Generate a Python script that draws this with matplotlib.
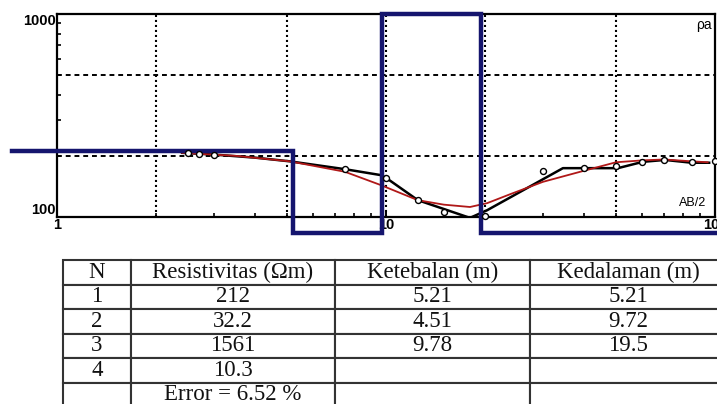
import numpy as np
import matplotlib
matplotlib.use('Agg')
import matplotlib.pyplot as plt
from matplotlib import ticker

# field data (AB/2 in m, apparent resistivity in ohm-m)
ab2_obs = [2.5, 2.7, 3.0, 7.5, 10, 12.5, 15, 20, 30, 40, 50, 60, 70, 85, 100]
rho_obs = [206, 205, 203, 172, 156, 121, 106, 101, 169, 174, 178, 187, 191, 186, 188]

# hand-smoothed field curve
ab2_field = [2.4, 3.0, 4.0, 5.1, 7.5, 9.6, 10, 12.5, 18, 20.3, 34.5, 50.7, 60.4, 70.5, 85, 96]
rho_field = [207, 203, 196, 188, 172, 161, 156, 121, 99, 108, 174, 174, 187, 191, 185, 185]

# calculated curve of the fitted model
ab2_calc = [2.4, 3.5, 5.1, 7.5, 9.6, 12.5, 15, 18, 20.3, 24, 30, 40, 50, 60, 70, 85, 95]
rho_calc = [207, 200, 188, 167, 144, 121, 115, 112, 117, 130, 149, 169, 186, 190, 192, 188, 186]

# layered model
n_layer = ['1', '2', '3', '4']
resistivity = [212, 32.2, 1561, 10.3]
thickness = ['5.21', '4.51', '9.78', '']
depth = [5.21, 9.72, 19.5]
error_pct = 6.52

x_ticks = [1, 10, 100]
y_ticks = [100, 1000]

plt.rcParams['font.family'] = ['Liberation Sans', 'DejaVu Sans']

fig = plt.figure(figsize=(7.17, 4.04), dpi=100)
ax = fig.add_axes([0.0795, 0.4629, 0.9177, 0.5025])
ax.set_xscale('log')
ax.set_yscale('log')
ax.set_xlim(1, 100)
ax.set_ylim(100, 1000)

for gx in [2, 5, 10, 20, 50]:
    ax.axvline(gx, color='black', lw=1.5, ls=(0, (1, 1.4)), zorder=1)
for gy in [200, 500]:
    ax.axhline(gy, color='black', lw=1.4, ls=(0, (2.5, 2)), zorder=1)

ax.plot(ab2_field, rho_field, color='black', lw=1.8, zorder=3)
ax.plot(ab2_calc, rho_calc, color='#b01818', lw=1.3, zorder=4)

# model steps, held inside a band a little wider than the axes
x0, x1 = ax.get_xlim()
y0, y1 = ax.get_ylim()
rho_step = np.clip(resistivity, y0 * 10 ** -0.079, y1)
xs = np.concatenate([[x0 * 10 ** -0.137], np.repeat(depth, 2), [x1 * 2]])
ys = np.repeat(rho_step, 2)
ax.plot(xs, ys, color='#15156e', lw=3.2, clip_on=False, zorder=5,
        solid_joinstyle='miter')

ax.plot(ab2_obs, rho_obs, 'o', ms=4.3, mfc='white', mec='black', mew=1.0,
        zorder=6, clip_on=False)

for s in ['top', 'left', 'bottom', 'right']:
    ax.spines[s].set_linewidth(1.6)
ax.tick_params(which='both', direction='in', top=False, right=False)
ax.tick_params(which='major', length=5, width=1.4, pad=1, labelsize=10.5)
ax.tick_params(which='minor', length=3, width=1.2)
ax.xaxis.set_major_locator(ticker.FixedLocator(x_ticks))
ax.yaxis.set_major_locator(ticker.FixedLocator(y_ticks))
ax.set_xticklabels([str(v) for v in x_ticks], fontweight='bold')
ax.set_yticklabels([str(v) for v in y_ticks], fontweight='bold')
ax.xaxis.set_minor_formatter(ticker.NullFormatter())
ax.yaxis.set_minor_formatter(ticker.NullFormatter())
ylabs = ax.get_yticklabels()
ylabs[0].set_va('bottom')
ylabs[-1].set_va('top')

ax.text(0.971, 0.946, 'ρa', transform=ax.transAxes, fontsize=10,
        ha='left', va='center')
ax.text(0.945, 0.069, 'AB/2', transform=ax.transAxes, fontsize=9,
        ha='left', va='center')

# result table
tax = fig.add_axes([63 / 717, -3 / 404, 663 / 717, 147 / 404])
tax.axis('off')
cells = [['N', 'Resistivitas (Ωm)', 'Ketebalan (m)', 'Kedalaman (m)']]
for i in range(4):
    cells.append([n_layer[i], '%g' % resistivity[i], thickness[i],
                  '%g' % depth[i] if i < len(depth) else ''])
cells.append(['', 'Error = %.2f %%' % error_pct, '', ''])
tbl = tax.table(cellText=cells, cellLoc='center', bbox=[0, 0, 1, 1],
                colWidths=[68, 204, 195, 196])
tbl.auto_set_font_size(False)
for (r, c), cell in tbl.get_celld().items():
    cell.set_edgecolor('#333333')
    cell.set_linewidth(1.5)
    cell.get_text().set_fontsize(16.5)
    cell.get_text().set_fontfamily('Liberation Serif')
    cell.get_text().set_color('#111111')

fig.savefig('out.png', dpi=100)
